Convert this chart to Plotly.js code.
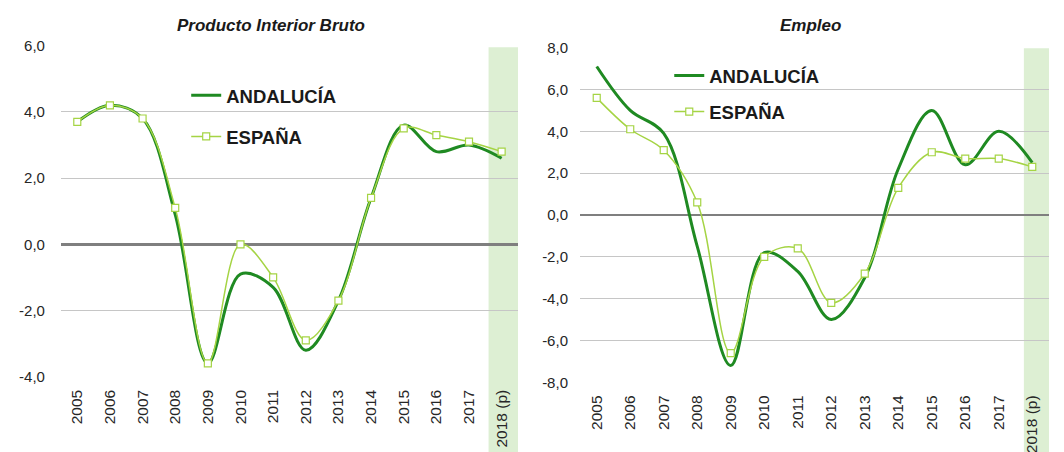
<!DOCTYPE html>
<html>
<head>
<meta charset="utf-8">
<script src="https://cdn.plot.ly/plotly-3.0.1.min.js"></script>
<style>html,body{margin:0;padding:0;background:#fff}#chart{width:1064px;height:452px}</style>
</head>
<body>
<div id="chart"></div>
<script>
var categories = ['2005','2006','2007','2008','2009','2010','2011','2012','2013','2014','2015','2016','2017','2018 (p)'];
var seriesNames = ['ANDALUCÍA', 'ESPAÑA'];
var pibAndalucia = [3.7, 4.2, 3.8, 0.9, -3.6, -0.9, -1.3, -3.2, -1.7, 1.4, 3.6, 2.8, 3.0, 2.6];
var pibEspana    = [3.7, 4.2, 3.8, 1.1, -3.6, 0.0, -1.0, -2.9, -1.7, 1.4, 3.5, 3.3, 3.1, 2.8];
var empAndalucia = [7.1, 5.0, 3.9, -1.5, -7.2, -1.8, -2.7, -5.0, -3.0, 2.2, 5.0, 2.4, 4.0, 2.5];
var empEspana    = [5.6, 4.1, 3.1, 0.6, -6.6, -2.0, -1.6, -4.2, -2.8, 1.3, 3.0, 2.7, 2.7, 2.3];
var titles = ['Producto Interior Bruto', 'Empleo'];
var pibTickVals = [-4, -2, 0, 2, 4, 6];
var pibTickText = ['-4,0', '-2,0', '0,0', '2,0', '4,0', '6,0'];
var empTickVals = [-8, -6, -4, -2, 0, 2, 4, 6, 8];
var empTickText = ['-8,0', '-6,0', '-4,0', '-2,0', '0,0', '2,0', '4,0', '6,0', '8,0'];

var DARK = '#1f8a22', LIGHT = '#a5d444', SHADE = '#ddefd3';
var FONT = 'Liberation Sans, Arial, sans-serif';

function andTrace(y, xa, ya, lg) {
  return {x: categories, y: y, xaxis: xa, yaxis: ya, name: seriesNames[0], legend: lg, legendgroup: lg + 'a',
    type: 'scatter', mode: 'lines', line: {color: DARK, width: 3, shape: 'spline', smoothing: 1}, hoverinfo: 'skip'};
}
function espTrace(y, xa, ya, lg) {
  return {x: categories, y: y, xaxis: xa, yaxis: ya, name: seriesNames[1], legend: lg, legendgroup: lg + 'b',
    type: 'scatter', mode: 'lines+markers', line: {color: LIGHT, width: 1.5, shape: 'spline', smoothing: 1},
    marker: {symbol: 'square', size: 7, color: '#ffffff', line: {color: LIGHT, width: 1.2}}, hoverinfo: 'skip'};
}

var data = [
  andTrace(pibAndalucia, 'x', 'y', 'legend'),
  espTrace(pibEspana, 'x', 'y', 'legend'),
  andTrace(empAndalucia, 'x2', 'y2', 'legend2'),
  espTrace(empEspana, 'x2', 'y2', 'legend2')
];

function xax(dom, anchor) {
  return {domain: dom, anchor: anchor, type: 'category', range: [-0.5, 13.5], showgrid: false, zeroline: false, showline: false,
    ticks: '', tickangle: -90, ticklabelstandoff: 9, tickfont: {family: FONT, size: 15.5, color: '#262626'},
    automargin: false, fixedrange: true};
}
function yax(dom, rng, anchor, standoff, vals, text) {
  return {domain: dom, anchor: anchor, range: rng, tickmode: 'array', tickvals: vals, ticktext: text,
    showgrid: true, gridcolor: '#c6c6c6', gridwidth: 1,
    zeroline: true, zerolinecolor: '#7f7f7f', zerolinewidth: 2.5, showline: false, ticks: '', ticklabelstandoff: standoff,
    tickfont: {family: FONT, size: 15, color: '#262626'}, automargin: false, fixedrange: true};
}

var layout = {
  width: 1064, height: 452,
  margin: {l: 0, r: 0, t: 0, b: 0},
  paper_bgcolor: '#ffffff', plot_bgcolor: 'rgba(0,0,0,0)',
  font: {family: FONT},
  xaxis: xax([0.0573, 0.4868], 'y'),
  yaxis: yax([0.1666, 0.8989], [-4, 6], 'x', 15, pibTickVals, pibTickText),
  xaxis2: xax([0.5451, 0.9859], 'y2'),
  yaxis2: yax([0.1542, 0.8945], [-8, 8], 'x2', 11, empTickVals, empTickText),
  legend: {x: 0.175, y: 0.83, xanchor: 'left', yanchor: 'top', bgcolor: 'rgba(0,0,0,0)', tracegroupgap: 14,
    itemwidth: 30, font: {family: FONT, size: 18.5, color: '#1a1a1a', weight: 'bold'}},
  legend2: {x: 0.629, y: 0.874, xanchor: 'left', yanchor: 'top', bgcolor: 'rgba(0,0,0,0)', tracegroupgap: 9,
    itemwidth: 30, font: {family: FONT, size: 18.5, color: '#1a1a1a', weight: 'bold'}},
  shapes: [
    {type: 'rect', xref: 'x', yref: 'paper', x0: 12.6, x1: 13.83, y0: 0, y1: 0.8954, fillcolor: SHADE, line: {width: 0}, layer: 'below'},
    {type: 'rect', xref: 'x2', yref: 'paper', x0: 12.75, x1: 13.5, y0: 0, y1: 0.8931, fillcolor: SHADE, line: {width: 0}, layer: 'below'}
  ],
  annotations: [
    {text: '<b><i>' + titles[0] + '</i></b>', xref: 'paper', yref: 'paper', x: 271 / 1064, y: 1 - 25 / 452,
      showarrow: false, xanchor: 'center', yanchor: 'middle', font: {family: FONT, size: 17, color: '#1a1a1a'}},
    {text: '<b><i>' + titles[1] + '</i></b>', xref: 'paper', yref: 'paper', x: 810 / 1064, y: 1 - 25 / 452,
      showarrow: false, xanchor: 'center', yanchor: 'middle', font: {family: FONT, size: 17, color: '#1a1a1a'}}
  ]
};

Plotly.newPlot('chart', data, layout, {staticPlot: true, displayModeBar: false});
</script>
</body>
</html>
